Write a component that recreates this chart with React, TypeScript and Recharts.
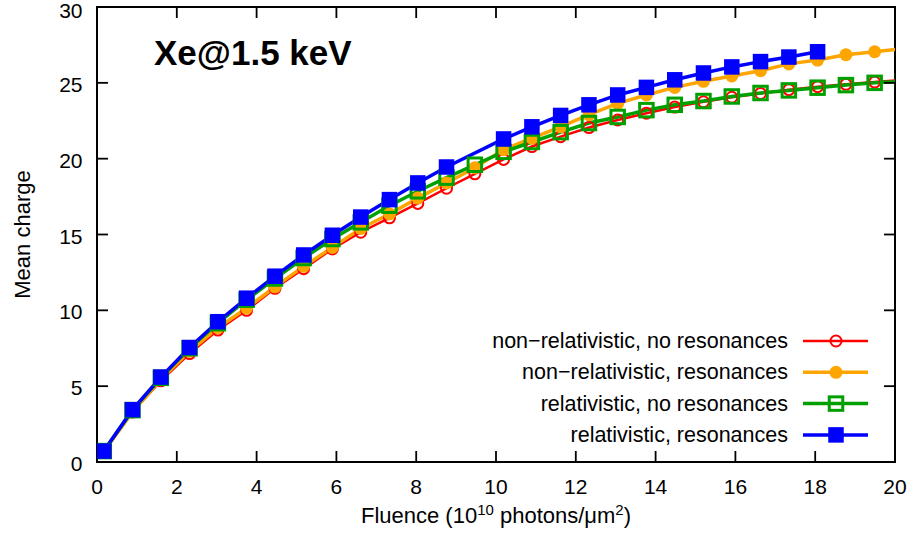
import React from 'react';
import { LineChart, Line, XAxis, YAxis, Label, ReferenceArea } from 'recharts';

// fluence in 10^10 photons/um^2 (last point lies just past the frame, line is clipped)
const fluence = [
  0.17, 0.89, 1.6, 2.32, 3.03, 3.75, 4.46, 5.18, 5.9, 6.61, 7.33, 8.04, 8.76, 9.47,
  10.19, 10.9, 11.62, 12.33, 13.05, 13.77, 14.48, 15.2, 15.91, 16.63, 17.34, 18.06,
  18.77, 19.49, 20.2,
];

const nonRelNoRes = [
  0.65, 3.3, 5.35, 7.15, 8.7, 10.0, 11.45, 12.75, 14.05, 15.15, 16.1, 17.05, 18.05, 19.0,
  19.95, 20.8, 21.45, 22.05, 22.55, 23.0, 23.4, 23.75, 24.05, 24.3, 24.55, 24.75,
  24.9, 25.05, 25.2,
];

const nonRelRes = [
  0.7, 3.3, 5.45, 7.3, 8.85, 10.15, 11.55, 12.9, 14.15, 15.4, 16.35, 17.4, 18.4, 19.4,
  20.6, 21.35, 22.1, 22.9, 23.65, 24.2, 24.7, 25.1, 25.45, 25.8, 26.25, 26.5,
  26.85, 27.05, 27.25,
];

const relNoRes = [
  0.72, 3.42, 5.55, 7.5, 9.15, 10.7, 12.1, 13.45, 14.7, 15.8, 16.9, 17.85, 18.75, 19.6,
  20.45, 21.1, 21.75, 22.35, 22.75, 23.2, 23.55, 23.8, 24.1, 24.33, 24.5, 24.68,
  24.85, 25.0, 25.1,
];

const relRes = [
  0.72, 3.45, 5.6, 7.55, 9.25, 10.8, 12.25, 13.65, 14.95, 16.15, 17.3, 18.4, 19.45, null,
  21.3, 22.1, 22.85, 23.55, 24.2, 24.7, 25.2, 25.65, 26.05, 26.4, 26.7, 27.05,
  null, null, null,
];

const xTicks = [0, 2, 4, 6, 8, 10, 12, 14, 16, 18, 20];
const yTicks = [0, 5, 10, 15, 20, 25, 30];

const series = [
  { key: 'nrnr', name: 'non\u2212relativistic, no resonances', color: '#ff0000', marker: 'circleOpen', width: 2.5 },
  { key: 'nrr', name: 'non\u2212relativistic, resonances', color: '#ffa500', marker: 'circle', width: 3.5 },
  { key: 'rnr', name: 'relativistic, no resonances', color: '#00a000', marker: 'squareOpen', width: 3.5 },
  { key: 'rr', name: 'relativistic, resonances', color: '#0000ff', marker: 'square', width: 3.5 },
];

const data = fluence.map((x, i) => ({
  x,
  nrnr: nonRelNoRes[i],
  nrr: nonRelRes[i],
  rnr: relNoRes[i],
  rr: relRes[i],
}));

const FONT = '"Liberation Sans", Arial, Helvetica, sans-serif';

const W = 912;
const H = 539;
const PLOT_LEFT = 97;
const PLOT_RIGHT = 895;
const PLOT_TOP = 7;
const PLOT_BOTTOM = 462;
const TICK = 11;

const X_MIN = 0;
const X_MAX = 20;
const Y_MIN = 0;
const Y_MAX = 30;

// pixel position of a tick on the frame (frame = margins + axis sizes above)
const tickX = (v) => PLOT_LEFT + ((v - X_MIN) / (X_MAX - X_MIN)) * (PLOT_RIGHT - PLOT_LEFT);
const tickY = (v) => PLOT_BOTTOM - ((v - Y_MIN) / (Y_MAX - Y_MIN)) * (PLOT_BOTTOM - PLOT_TOP);

const Marker = ({ kind, cx, cy, color }) => {
  if (kind === 'circleOpen') {
    return <circle cx={cx} cy={cy} r={5.5} fill="none" stroke={color} strokeWidth={2} />;
  }
  if (kind === 'circle') {
    return <circle cx={cx} cy={cy} r={6.5} fill={color} />;
  }
  if (kind === 'squareOpen') {
    return (
      <rect x={cx - 6.75} y={cy - 6.75} width={13.5} height={13.5} fill="none" stroke={color} strokeWidth={3} />
    );
  }
  return <rect x={cx - 7.75} y={cy - 7.75} width={15.5} height={15.5} fill={color} />;
};

const makeDot = (s) => (props) => {
  const { cx, cy, index } = props;
  if (cx == null || cy == null || props.payload?.[s.key] == null) {
    return <g key={`${s.key}-${index}`} />;
  }
  return (
    <g key={`${s.key}-${index}`}>
      <Marker kind={s.marker} cx={cx} cy={cy} color={s.color} />
    </g>
  );
};

const XTick = ({ x, y, payload }) => (
  <text x={x} y={y} dy="0.71em" textAnchor="middle" fontSize={21} fill="#000">
    {payload.value}
  </text>
);

const YTick = ({ x, y, payload }) => (
  <text x={x} y={y} dy={9} textAnchor="end" fontSize={21} fill="#000">
    {payload.value}
  </text>
);

const XLabel = ({ viewBox }) => {
  const cx = viewBox.x + viewBox.width / 2;
  const y = viewBox.y + 61;
  return (
    <text x={cx} y={y} textAnchor="middle" fontSize={22} fill="#000">
      Fluence (10
      <tspan dy={-8} fontSize={15}>10</tspan>
      <tspan dy={8}> photons/μm</tspan>
      <tspan dy={-8} fontSize={15}>2</tspan>
      <tspan dy={8}>)</tspan>
    </text>
  );
};

const YLabel = ({ viewBox }) => {
  const x = viewBox.x + 22.5;
  const y = viewBox.y + viewBox.height / 2;
  return (
    <text
      x={x}
      y={y}
      transform={`rotate(-90, ${x}, ${y})`}
      textAnchor="middle"
      dominantBaseline="central"
      fontSize={22}
      fill="#000"
    >
      Mean charge
    </text>
  );
};

const axisLine = { stroke: '#000', strokeWidth: 2 };

const innerX = xTicks.filter((t) => t > X_MIN && t < X_MAX);
const innerY = yTicks.filter((t) => t > Y_MIN && t < Y_MAX);

export default function App() {
  return (
    <div style={{ position: 'absolute', left: 0, top: 0, width: W, height: H, fontFamily: FONT, background: '#fff' }}>
      <LineChart
        width={W}
        height={H}
        data={data}
        margin={{ top: PLOT_TOP, right: W - PLOT_RIGHT, bottom: 0, left: 0 }}
      >
        <XAxis
          xAxisId="x"
          dataKey="x"
          type="number"
          domain={[X_MIN, X_MAX]}
          ticks={xTicks}
          allowDataOverflow
          height={H - PLOT_BOTTOM}
          tickSize={0}
          tickMargin={17}
          tickLine={false}
          axisLine={axisLine}
          tick={XTick}
        >
          <Label content={XLabel} />
        </XAxis>
        <YAxis
          yAxisId="y"
          type="number"
          domain={[Y_MIN, Y_MAX]}
          ticks={yTicks}
          width={PLOT_LEFT}
          tickSize={0}
          tickMargin={14.5}
          tickLine={false}
          axisLine={axisLine}
          tick={YTick}
        >
          <Label content={YLabel} />
        </YAxis>
        <ReferenceArea
          xAxisId="x"
          yAxisId="y"
          x1={X_MIN}
          x2={X_MAX}
          y1={Y_MIN}
          y2={Y_MAX}
          fill="none"
          fillOpacity={0}
          stroke="#000"
          strokeWidth={2}
        />
        {series.map((s) => (
          <Line
            key={s.key}
            xAxisId="x"
            yAxisId="y"
            dataKey={s.key}
            name={s.name}
            type="linear"
            stroke={s.color}
            strokeWidth={s.width}
            dot={makeDot(s)}
            activeDot={false}
            connectNulls
            isAnimationActive={false}
          />
        ))}
      </LineChart>
      <svg width={W} height={H} style={{ position: 'absolute', left: 0, top: 0, pointerEvents: 'none' }}>
        {/* inward ticks on all four sides */}
        <g stroke="#000" strokeWidth={1.8}>
          {innerX.map((t) => (
            <g key={`x-${t}`}>
              <line x1={tickX(t)} x2={tickX(t)} y1={PLOT_BOTTOM} y2={PLOT_BOTTOM - TICK} />
              <line x1={tickX(t)} x2={tickX(t)} y1={PLOT_TOP} y2={PLOT_TOP + TICK} />
            </g>
          ))}
          {innerY.map((t) => (
            <g key={`y-${t}`}>
              <line x1={PLOT_LEFT} x2={PLOT_LEFT + TICK} y1={tickY(t)} y2={tickY(t)} />
              <line x1={PLOT_RIGHT - TICK} x2={PLOT_RIGHT} y1={tickY(t)} y2={tickY(t)} />
            </g>
          ))}
        </g>
        <text x={154} y={65} fontSize={35} fontWeight="bold" fill="#000">
          Xe@1.5 keV
        </text>
        {series.map((s, i) => {
          const y = 341 + i * 31.3;
          return (
            <g key={s.key}>
              <text x={788} y={y} textAnchor="end" dominantBaseline="central" fontSize={21.5} fill="#000">
                {s.name}
              </text>
              <line x1={803} x2={868} y1={y} y2={y} stroke={s.color} strokeWidth={s.width} />
              <Marker kind={s.marker} cx={836} cy={y} color={s.color} />
            </g>
          );
        })}
      </svg>
    </div>
  );
}
